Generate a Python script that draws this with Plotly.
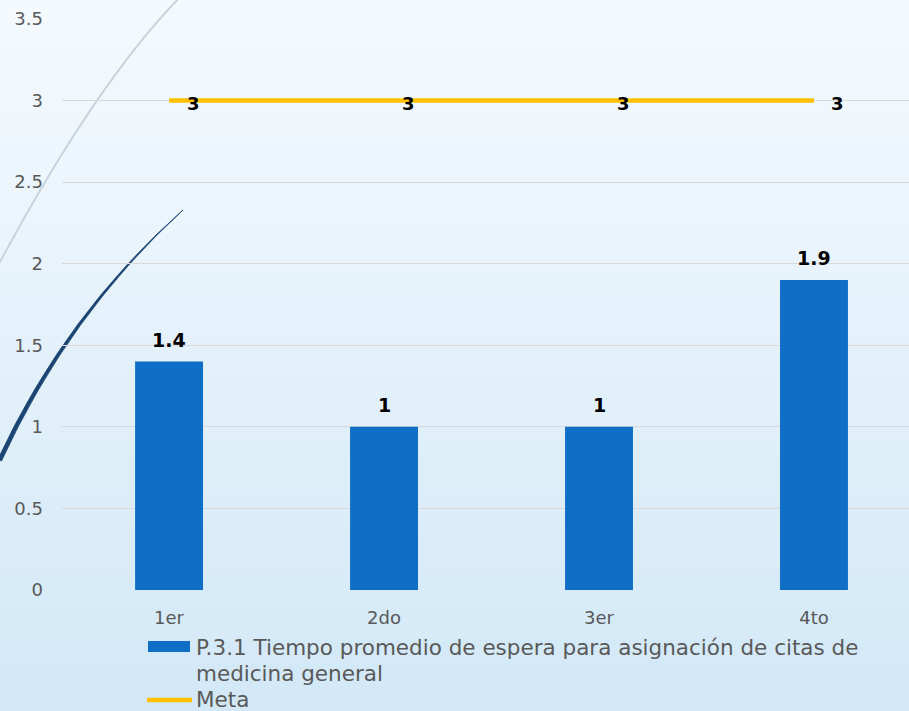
import plotly.graph_objects as go

categories = ["1er", "2do", "3er", "4to"]
tiempo_values = [1.4, 1, 1, 1.9]
meta_values = [3, 3, 3, 3]
y_ticks = [0, 0.5, 1, 1.5, 2, 2.5, 3, 3.5]
y_tick_labels = ["0", "0.5", "1", "1.5", "2", "2.5", "3", "3.5"]
series_bar_name_lines = ["P.3.1 Tiempo promedio de espera para asignación de citas de", "medicina general"]
series_line_name = "Meta"

W, H = 909, 711
ML, MR, MT, MB = 62, 0, 19, 121
PW, PH = W - ML - MR, H - MT - MB

def px(x):
    return (x - ML) / PW

def py(y):
    return (H - MB - y) / PH

FONT = "DejaVu Sans"
GRAY = "#595959"
BAR = "#0f6fc6"
GOLD = "#ffc000"

fig = go.Figure()
fig.add_trace(go.Bar(x=categories, y=tiempo_values, width=0.316,
                     marker=dict(color=BAR, line=dict(width=0)),
                     name=" ".join(series_bar_name_lines), showlegend=False, hoverinfo="skip"))
fig.add_trace(go.Scatter(x=categories, y=meta_values, mode="lines",
                         line=dict(color=GOLD, width=4.5),
                         name=series_line_name, showlegend=False, hoverinfo="skip"))

shapes = []
# vertical gradient background
n = 70
top = (245, 250, 254)
bot = (210, 232, 247)
for i in range(n):
    t = i / (n - 1)
    c = tuple(round(top[k] + (bot[k] - top[k]) * t) for k in range(3))
    y0 = H * i / n
    y1 = H * (i + 1) / n + 1
    shapes.append(dict(type="rect", xref="paper", yref="paper",
                       x0=px(0), x1=px(W), y0=py(y1), y1=py(y0),
                       fillcolor="rgb(%d,%d,%d)" % c, line=dict(width=0), layer="below"))

# decorative arcs
def qpath(p0, c, p2):
    return "M %f,%f Q %f,%f %f,%f" % (px(p0[0]), py(p0[1]), px(c[0]), py(c[1]), px(p2[0]), py(p2[1]))

shapes.append(dict(type="path", xref="paper", yref="paper",
                   path=qpath((200, -22), (99.5, 68.5), (-20, 300)),
                   line=dict(color="#c9d3dc", width=2), layer="below"))
# tapered navy arc as a filled crescent
nav = "M %f,%f Q %f,%f %f,%f L %f,%f Q %f,%f %f,%f Z" % (
    px(183), py(210), px(68.5), py(315), px(1.5), py(461),
    px(-2), py(459), px(66), py(313), px(183), py(210))
shapes.append(dict(type="path", xref="paper", yref="paper", path=nav,
                   fillcolor="#1a4472", line=dict(color="#1a4472", width=0.8), layer="below"))

# custom legend symbols
shapes.append(dict(type="rect", xref="paper", yref="paper",
                   x0=px(148), x1=px(190), y0=py(652), y1=py(641),
                   fillcolor=BAR, line=dict(width=0)))
shapes.append(dict(type="line", xref="paper", yref="paper",
                   x0=px(147), x1=px(192), y0=py(700), y1=py(700),
                   line=dict(color=GOLD, width=4.5)))

annotations = []
for c, v in zip(categories, tiempo_values):
    annotations.append(dict(x=c, y=v, xref="x", yref="y", text="<b>%g</b>" % v,
                            showarrow=False, yanchor="bottom", yshift=9,
                            font=dict(family=FONT, size=19, color="black")))
for c, v in zip(categories, meta_values):
    annotations.append(dict(x=c, y=v, xref="x", yref="y", text="<b>%g</b>" % v,
                            showarrow=False, xshift=24, yshift=-3,
                            font=dict(family=FONT, size=18, color="black")))
for i, line in enumerate(series_bar_name_lines):
    annotations.append(dict(x=px(194), y=py(647 + 26 * i), xref="paper", yref="paper",
                            text=line, showarrow=False, xanchor="left", yanchor="middle",
                            align="left", font=dict(family=FONT, size=21.5, color=GRAY)))
annotations.append(dict(x=px(194), y=py(699), xref="paper", yref="paper",
                        text=series_line_name, showarrow=False, xanchor="left", yanchor="middle",
                        align="left", font=dict(family=FONT, size=21.5, color=GRAY)))

fig.update_layout(
    width=W, height=H,
    margin=dict(l=ML, r=MR, t=MT, b=MB, pad=0),
    paper_bgcolor="rgb(210,232,247)",
    plot_bgcolor="rgba(0,0,0,0)",
    showlegend=False,
    hovermode=False,
    shapes=shapes,
    annotations=annotations,
    font=dict(family=FONT, color=GRAY),
    xaxis=dict(type="category", range=[-0.498, 3.442], showgrid=False, showline=False,
               zeroline=False, ticks="", ticklabelstandoff=15,
               tickfont=dict(size=18, color=GRAY)),
    yaxis=dict(range=[0, 3.5], tickvals=y_ticks, ticktext=y_tick_labels,
               showgrid=True, gridcolor="#d9d9d9", gridwidth=1.3, zeroline=False,
               showline=False, ticks="", ticklabelstandoff=18,
               tickfont=dict(size=18, color=GRAY)),
)

fig.write_html("out.html", config={"displayModeBar": False},
               post_script="document.body.style.margin='0';document.body.style.overflow='hidden';")
